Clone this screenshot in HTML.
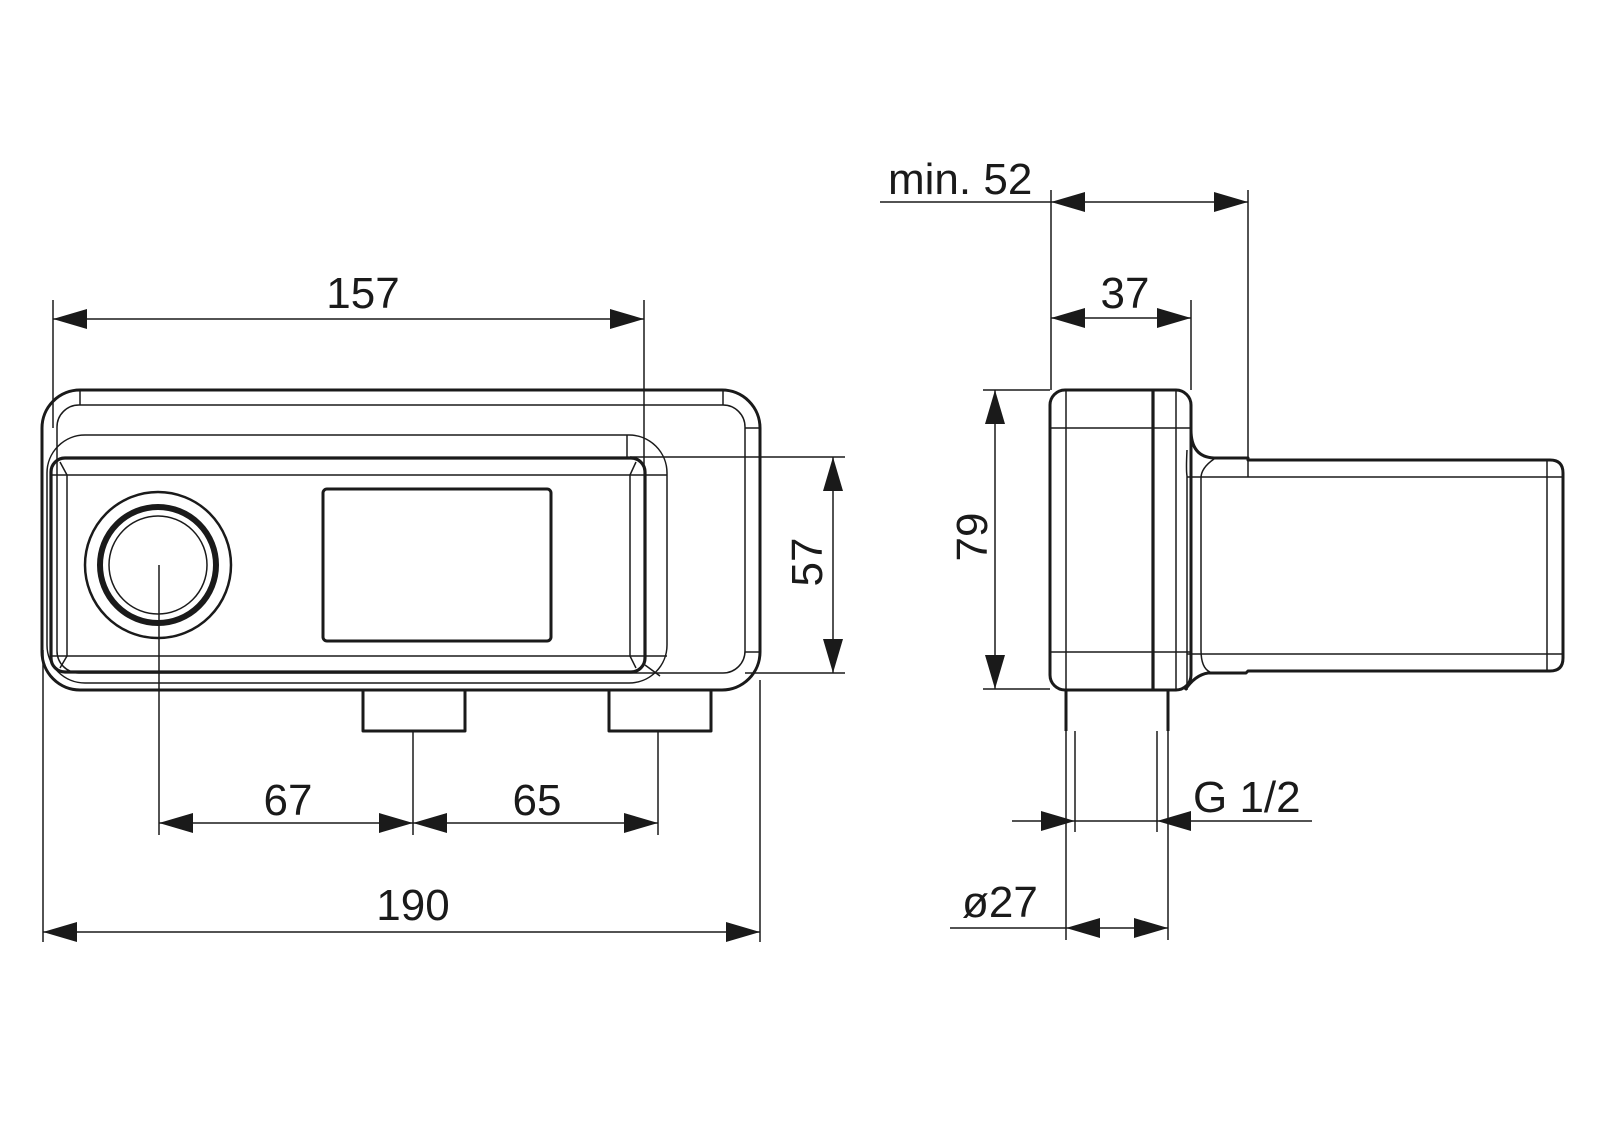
<!DOCTYPE html>
<html><head><meta charset="utf-8"><style>
html,body{margin:0;padding:0;background:#fff;}
svg{display:block;}
text{font-family:"Liberation Sans",Arial,sans-serif;font-size:44px;fill:#1a1a1a;}
</style></head><body>
<svg width="1600" height="1131" viewBox="0 0 1600 1131" xmlns="http://www.w3.org/2000/svg">
<defs>
<marker id="a" viewBox="0 0 34 20" refX="34" refY="10" markerWidth="34" markerHeight="20" markerUnits="userSpaceOnUse" orient="auto-start-reverse"><path d="M0,0 L34,10 L0,20 Z" fill="#1a1a1a"/></marker>
</defs>
<g fill="none" stroke="#1a1a1a" stroke-linejoin="round">
<!-- FRONT VIEW -->
<rect x="42" y="390" width="718" height="300" rx="38" stroke-width="3"/>
<rect x="57" y="405" width="688" height="268" rx="22" stroke-width="1.5"/>
<line x1="80" y1="390" x2="80" y2="405" stroke-width="1.5"/>
<line x1="723" y1="390" x2="723" y2="405" stroke-width="1.5"/>
<line x1="745" y1="428" x2="760" y2="428" stroke-width="1.5"/>
<line x1="745" y1="652" x2="760" y2="652" stroke-width="1.5"/>
<rect x="47" y="435" width="620" height="248" rx="38" stroke-width="1.5"/>
<line x1="627" y1="435" x2="627" y2="458" stroke-width="1.5"/>
<rect x="51" y="458" width="594" height="214" rx="14" stroke-width="3.2"/>
<rect x="67" y="475" width="563" height="181" stroke-width="1.5"/>
<line x1="51" y1="475" x2="67" y2="475" stroke-width="1.5"/>
<line x1="51" y1="656" x2="67" y2="656" stroke-width="1.5"/>
<line x1="630" y1="475" x2="667" y2="475" stroke-width="1.5"/>
<line x1="630" y1="656" x2="667" y2="656" stroke-width="1.5"/>
<path d="M67,475 L60,462 M67,656 L60,668 M630,475 L636,462 M630,656 L636,668 M645,665 L660,676" stroke-width="1.5"/>
<!-- knob -->
<circle cx="158" cy="565" r="73" stroke-width="2.5"/>
<circle cx="158" cy="565" r="58" stroke-width="6"/>
<circle cx="158" cy="565" r="49" stroke-width="1.5"/>
<!-- display -->
<rect x="323" y="489" width="228" height="152" rx="4" stroke-width="3"/>
<!-- pipes -->
<path d="M363,690 V731 H465 V690" stroke-width="3"/>
<path d="M609,690 V731 H711 V690" stroke-width="3"/>
<!-- front dims -->
<g stroke-width="1.5">
<line x1="53" y1="300" x2="53" y2="428"/>
<line x1="644" y1="300" x2="644" y2="470"/>
<line x1="43" y1="650" x2="43" y2="942"/>
<line x1="760" y1="680" x2="760" y2="942"/>
<line x1="159" y1="565" x2="159" y2="835"/>
<line x1="413" y1="731" x2="413" y2="835"/>
<line x1="658" y1="731" x2="658" y2="835"/>
<line x1="630" y1="457" x2="845" y2="457"/>
<line x1="745" y1="673" x2="845" y2="673"/>
<line x1="53" y1="319" x2="644" y2="319" marker-start="url(#a)" marker-end="url(#a)"/>
<line x1="43" y1="932" x2="760" y2="932" marker-start="url(#a)" marker-end="url(#a)"/>
<line x1="159" y1="823" x2="413" y2="823" marker-start="url(#a)" marker-end="url(#a)"/>
<line x1="413" y1="823" x2="658" y2="823" marker-start="url(#a)" marker-end="url(#a)"/>
<line x1="833" y1="457" x2="833" y2="673" marker-start="url(#a)" marker-end="url(#a)"/>
</g>
<!-- SIDE VIEW -->
<rect x="1050" y="390" width="141" height="300" rx="15" stroke-width="3"/>
<line x1="1066" y1="390" x2="1066" y2="690" stroke-width="1.5"/>
<line x1="1153" y1="390" x2="1153" y2="690" stroke-width="3.2"/>
<line x1="1176" y1="390" x2="1176" y2="690" stroke-width="1.5"/>
<line x1="1050" y1="428" x2="1191" y2="428" stroke-width="1.5"/>
<line x1="1050" y1="652" x2="1191" y2="652" stroke-width="1.5"/>
<path d="M1191,430 Q1191,457 1214,458 L1248,458 L1248,460 L1550,460 Q1563,460 1563,473 L1563,658 Q1563,671 1550,671 L1248,671 L1246,673 L1208,673 Q1195,675 1185,690" stroke-width="3"/>
<path d="M1187,450 Q1186,470 1187,476 L1187,690 M1214,459 Q1201,468 1201,478 L1201,650 Q1201,668 1210,672" stroke-width="1.5"/>
<line x1="1187" y1="477" x2="1563" y2="477" stroke-width="1.5"/>
<line x1="1187" y1="654" x2="1563" y2="654" stroke-width="1.5"/>
<line x1="1547" y1="460" x2="1547" y2="671" stroke-width="1.5"/>
<path d="M1066,690 V731 M1168,690 V731" stroke-width="3"/>
<g stroke-width="1.5">
<line x1="1248" y1="190" x2="1248" y2="477"/>
<line x1="1051" y1="190" x2="1051" y2="390"/>
<line x1="1191" y1="300" x2="1191" y2="390"/>
<line x1="983" y1="390" x2="1050" y2="390"/>
<line x1="983" y1="689" x2="1050" y2="689"/>
<line x1="1066" y1="731" x2="1066" y2="940"/>
<line x1="1168" y1="731" x2="1168" y2="940"/>
<line x1="1075" y1="731" x2="1075" y2="832"/>
<line x1="1157" y1="731" x2="1157" y2="832"/>
<line x1="880" y1="202" x2="1051" y2="202"/>
<line x1="1051" y1="202" x2="1248" y2="202" marker-start="url(#a)" marker-end="url(#a)"/>
<line x1="1051" y1="318" x2="1191" y2="318" marker-start="url(#a)" marker-end="url(#a)"/>
<line x1="995" y1="390" x2="995" y2="689" marker-start="url(#a)" marker-end="url(#a)"/>
<line x1="1012" y1="821" x2="1075" y2="821" marker-end="url(#a)"/>
<line x1="1312" y1="821" x2="1157" y2="821" marker-end="url(#a)"/>
<line x1="1075" y1="821" x2="1157" y2="821"/>
<line x1="950" y1="928" x2="1066" y2="928"/>
<line x1="1066" y1="928" x2="1168" y2="928" marker-start="url(#a)" marker-end="url(#a)"/>
</g>
</g>
<text x="363" y="308" text-anchor="middle">157</text>
<text x="413" y="920" text-anchor="middle">190</text>
<text x="288" y="815" text-anchor="middle">67</text>
<text x="537" y="815" text-anchor="middle">65</text>
<text transform="translate(822,562) rotate(-90)" text-anchor="middle">57</text>
<text transform="translate(987,537) rotate(-90)" text-anchor="middle">79</text>
<text x="888" y="194">min. 52</text>
<text x="1125" y="308" text-anchor="middle">37</text>
<text x="1193" y="812">G 1/2</text>
<text x="962" y="917">ø27</text>
</svg>
</body></html>
